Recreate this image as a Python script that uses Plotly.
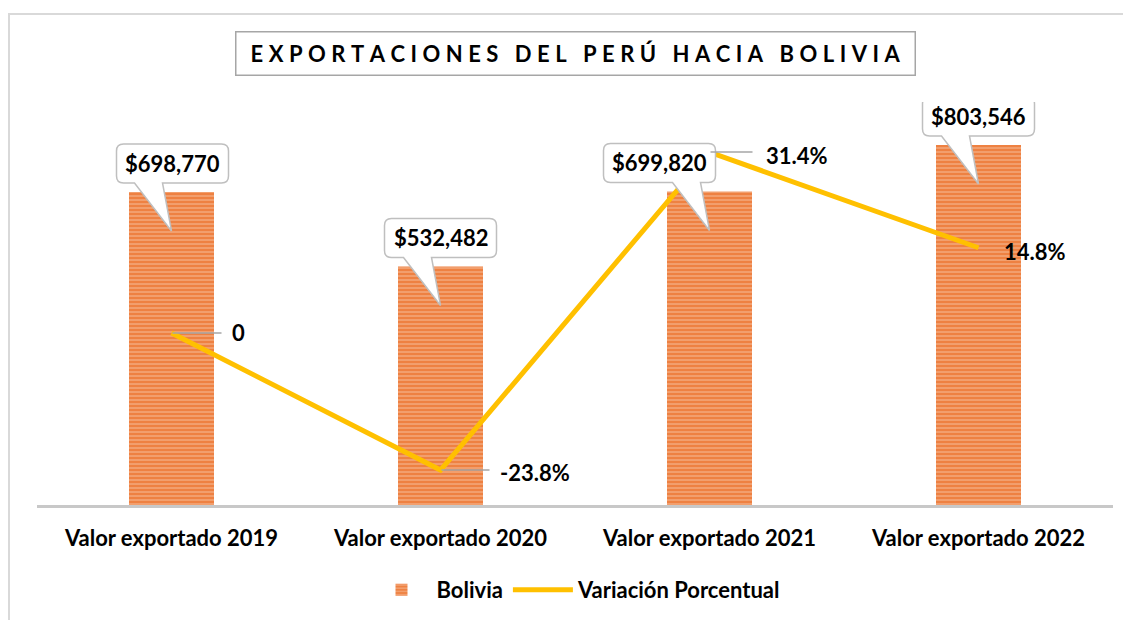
import plotly.graph_objects as go

# ---- data ----
categories = ["Valor exportado 2019", "Valor exportado 2020", "Valor exportado 2021", "Valor exportado 2022"]
export_values = [698770, 532482, 699820, 803546]
export_labels = ["$698,770", "$532,482", "$699,820", "$803,546"]
variation_values = [0.0, -23.8, 31.4, 14.8]
variation_labels = ["0", "-23.8%", "31.4%", "14.8%"]
title_text = "EXPORTACIONES DEL PERÚ HACIA BOLIVIA"
series_names = ["Bolivia", "Variación Porcentual"]

FONT = "Lato"
OFF = 8  # page body margin
W, H = 1131 - OFF, 620 - OFF
ML, MR, MT, MB = 37 - OFF, 18, 102 - OFF, 115
PW, PH = W - ML - MR, H - MT - MB

xpos = list(range(len(categories)))

fig = go.Figure()
fig.add_trace(go.Bar(
    x=xpos, y=export_values, name=series_names[0], width=0.316,
    marker=dict(color="#EE8142", line=dict(width=0),
                pattern=dict(shape="-", size=4, solidity=0.3,
                             fgcolor="#FCE3D2", bgcolor="#EE8142")),
    yaxis="y", hoverinfo="skip"))
fig.add_trace(go.Scatter(
    x=xpos, y=variation_values, name=series_names[1], mode="lines",
    line=dict(color="#FFC000", width=5), yaxis="y2", hoverinfo="skip"))

shapes = []
annotations = []

# speech-bubble callouts for bar values (pixel geometry anchored to bar tops)
box_dx = [1, 0, -50, 0]
for i, (xv, yv) in enumerate(zip(xpos, export_values)):
    dx = box_dx[i]
    L, R, B, T, r = dx - 56, dx + 56, 9, 48, 7
    path = (f"M{L+r},{T} L{R-r},{T} Q{R},{T} {R},{T-r} L{R},{B+r} Q{R},{B} {R-r},{B} "
            f"L-9,{B} L0,-39 L-37,{B} L{L+r},{B} Q{L},{B} {L},{B+r} L{L},{T-r} Q{L},{T} {L+r},{T} Z")
    shapes.append(dict(type="path", xref="x", yref="y", xsizemode="pixel", ysizemode="pixel",
                       xanchor=xv, yanchor=yv, path=path, fillcolor="white",
                       line=dict(color="#BFBFBF", width=1.5), layer="above"))
    annotations.append(dict(x=xv, y=yv, xref="x", yref="y", text=export_labels[i],
                            showarrow=False, xshift=dx, yshift=28.5,
                            font=dict(family=FONT, size=22, color="black", weight="bold")))

# leader lines + labels for the variation line
leader_len = [50, 49, 43, 0]
text_dx = [58, 57, 54, 23]
text_dy = [0, -2, -3, -4]
for i, (xv, yv) in enumerate(zip(xpos, variation_values)):
    if leader_len[i] > 0:
        shapes.append(dict(type="line", xref="x", yref="y2", xsizemode="pixel", ysizemode="pixel",
                           xanchor=xv, yanchor=yv, x0=1, x1=leader_len[i], y0=0, y1=0,
                           line=dict(color="#A6A6A6", width=1.5), layer="above"))
    annotations.append(dict(x=xv, y=yv, xref="x", yref="y2", text=variation_labels[i],
                            showarrow=False, xanchor="left", xshift=text_dx[i], yshift=text_dy[i],
                            font=dict(family=FONT, size=22, color="black", weight="bold")))

# screen-pixel -> paper helpers
def px_x(p):
    return (p - OFF - ML) / PW

def px_y(p):
    return (OFF + H - MB - p) / PH

# outer frame
shapes.append(dict(type="rect", xref="paper", yref="paper",
                   x0=px_x(9), x1=px_x(1160), y0=px_y(660), y1=px_y(14),
                   line=dict(color="#D9D9D9", width=2), fillcolor="rgba(0,0,0,0)", layer="below"))

# title box
spaced_title = "\u2005".join(title_text)
annotations.append(dict(x=px_x(575), y=px_y(53.5), xref="paper", yref="paper",
                        text=spaced_title, showarrow=False, xanchor="center", yanchor="middle",
                        width=676, height=40, bordercolor="#A6A6A6", borderwidth=1.5,
                        bgcolor="white",
                        font=dict(family=FONT, size=22, color="black", weight="bold")))

fig.update_layout(
    width=W, height=H,
    margin=dict(l=ML, r=MR, t=MT, b=MB, autoexpand=False),
    paper_bgcolor="white", plot_bgcolor="white",
    showlegend=True,
    legend=dict(orientation="h", x=px_x(576), y=px_y(590), xanchor="center", yanchor="middle",
                font=dict(family=FONT, size=22, color="black", weight="bold"),
                itemwidth=60, traceorder="normal", bgcolor="rgba(0,0,0,0)"),
    xaxis=dict(range=[-0.5, 3.5], tickmode="array", tickvals=xpos, ticktext=categories,
               showgrid=False, zeroline=False, showline=True, linecolor="#C8C8C8", linewidth=3,
               ticks="", ticklabelstandoff=12,
               tickfont=dict(family=FONT, size=22, color="black", weight="bold"),
               fixedrange=True),
    yaxis=dict(range=[0, 899554], visible=False, showgrid=False, zeroline=False, fixedrange=True),
    yaxis2=dict(range=[-29.86, 40.10], overlaying="y", side="right", visible=False,
                showgrid=False, zeroline=False, fixedrange=True),
    shapes=shapes, annotations=annotations,
)

fig.write_html("out.html")
